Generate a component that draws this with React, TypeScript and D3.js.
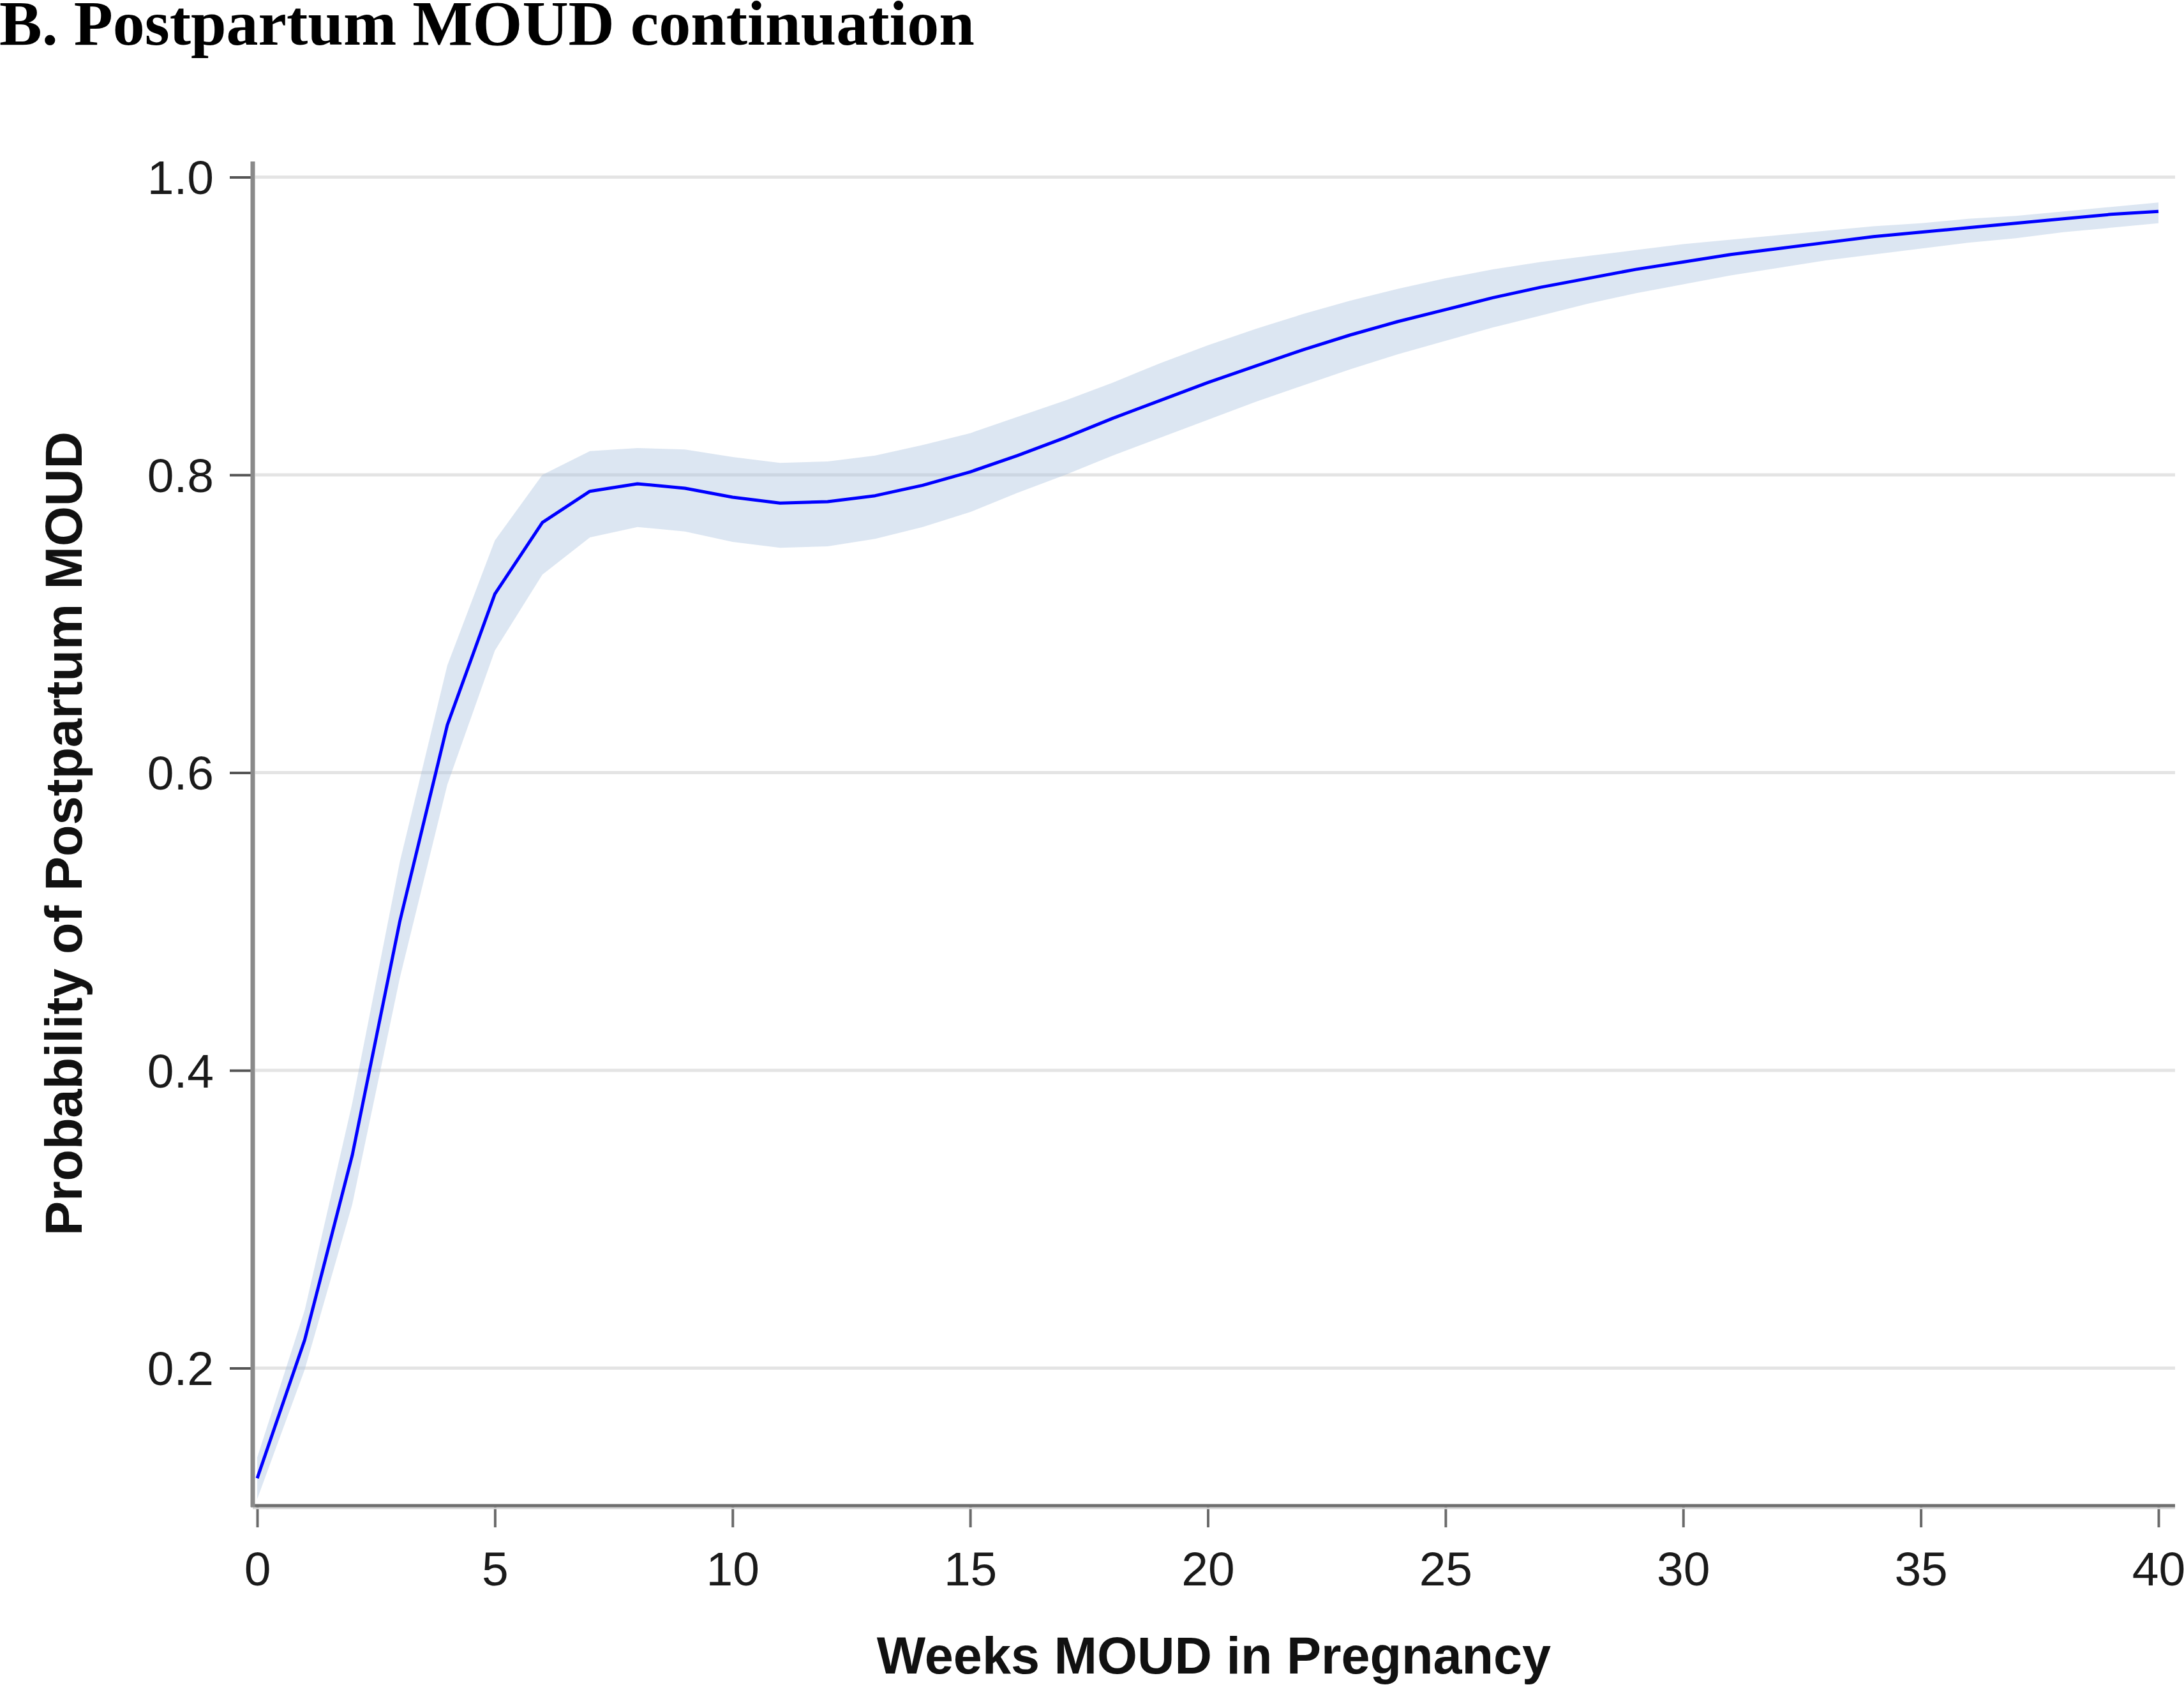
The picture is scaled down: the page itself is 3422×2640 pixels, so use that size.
import * as d3 from 'd3';
import { useEffect, useRef } from 'react';

// weeks of MOUD in pregnancy
const weeks = [
  0, 1, 2, 3, 4, 5, 6, 7, 8, 9, 10, 11, 12, 13, 14, 15, 16, 17, 18, 19, 20,
  21, 22, 23, 24, 25, 26, 27, 28, 29, 30, 31, 32, 33, 34, 35, 36, 37, 38, 39, 40,
];
// predicted probability
const prob = [
  0.126, 0.219, 0.343, 0.5, 0.632, 0.72, 0.768, 0.789, 0.794, 0.791, 0.785,
  0.781, 0.782, 0.786, 0.793, 0.802, 0.813, 0.825, 0.838, 0.85, 0.862,
  0.873, 0.884, 0.894, 0.903, 0.911, 0.919, 0.926, 0.932, 0.938, 0.943,
  0.948, 0.952, 0.956, 0.96, 0.963, 0.966, 0.969, 0.972, 0.975, 0.977,
];
const lower = [
  0.112, 0.199, 0.31, 0.462, 0.592, 0.682, 0.733, 0.758, 0.765, 0.762, 0.755,
  0.751, 0.752, 0.757, 0.765, 0.775, 0.788, 0.8, 0.813, 0.825, 0.837,
  0.849, 0.86, 0.871, 0.881, 0.89, 0.899, 0.907, 0.915, 0.922, 0.928,
  0.934, 0.939, 0.944, 0.948, 0.952, 0.956, 0.959, 0.963, 0.966, 0.969,
];
const upper = [
  0.14, 0.239, 0.378, 0.54, 0.672, 0.756, 0.8, 0.816, 0.818, 0.817, 0.812,
  0.808, 0.809, 0.813, 0.82, 0.828, 0.839, 0.85, 0.862, 0.875, 0.887,
  0.898, 0.908, 0.917, 0.925, 0.932, 0.938, 0.943, 0.947, 0.951, 0.955,
  0.958, 0.961, 0.964, 0.967, 0.969, 0.972, 0.974, 0.977, 0.98, 0.983,
];
const xTicks = [0, 5, 10, 15, 20, 25, 30, 35, 40];
const yTicks = [0.2, 0.4, 0.6, 0.8, 1.0];

const title = 'B. Postpartum MOUD continuation';
const xTitle = 'Weeks MOUD in Pregnancy';
const yTitle = 'Probability of Postpartum MOUD';

const App = () => {
  const svgRef = useRef(null);

  useEffect(() => {
    const width = 3422;
    const height = 2640;
    const axisX = 396;
    const axisY = 2359;
    const plotRight = 3408;
    const sans = '"Liberation Sans", Arial, sans-serif';

    const xScale = d3.scaleLinear([0, 40], [403, 3382]);
    const yScale = d3.scaleLinear([0.2, 1.0], [2143.5, 277.5]);

    const svg = d3.select(svgRef.current);
    svg.selectAll('*').remove();
    svg.attr('width', width).attr('height', height).attr('viewBox', [0, 0, width, height]);

    svg.append('rect').attr('width', width).attr('height', height).attr('fill', '#fff');

    // gridlines
    svg.append('g')
      .selectAll('line')
      .data(yTicks)
      .join('line')
      .attr('x1', axisX + 4)
      .attr('x2', plotRight)
      .attr('y1', (d) => yScale(d))
      .attr('y2', (d) => yScale(d))
      .attr('stroke', '#e4e4e4')
      .attr('stroke-width', 5);

    // confidence band
    const band = d3
      .area()
      .x((_, i) => xScale(weeks[i]))
      .y0((_, i) => yScale(lower[i]))
      .y1((_, i) => yScale(upper[i]))
      .curve(d3.curveLinear);
    svg.append('path')
      .attr('d', band(weeks))
      .attr('fill', '#a8c0de')
      .attr('fill-opacity', 0.4);

    const line = d3
      .line()
      .x((_, i) => xScale(weeks[i]))
      .y((_, i) => yScale(prob[i]))
      .curve(d3.curveLinear);
    svg.append('path')
      .attr('d', line(weeks))
      .attr('fill', 'none')
      .attr('stroke', '#0000ff')
      .attr('stroke-width', 5)
      .attr('stroke-linejoin', 'round');

    // y axis
    svg.append('g')
      .attr('transform', `translate(${axisX},0)`)
      .call(
        d3.axisLeft(yScale)
          .tickValues(yTicks)
          .tickFormat(d3.format('.1f'))
          .tickSize(36)
          .tickPadding(25)
      )
      .call((g) => {
        g.select('.domain').remove();
        g.selectAll('.tick line').attr('stroke', '#555').attr('stroke-width', 4);
        g.selectAll('.tick text')
          .attr('font-size', 75)
          .attr('font-family', sans)
          .attr('fill', '#1a1a1a')
          .attr('dy', '0.35em');
      });

    // x axis
    svg.append('g')
      .attr('transform', `translate(0,${axisY})`)
      .call(
        d3.axisBottom(xScale)
          .tickValues(xTicks)
          .tickSize(34)
          .tickPadding(38)
      )
      .call((g) => {
        g.select('.domain').remove();
        g.selectAll('.tick line').attr('stroke', '#6a6a6a').attr('stroke-width', 4);
        g.selectAll('.tick text')
          .attr('font-size', 75)
          .attr('font-family', sans)
          .attr('fill', '#1a1a1a');
      });

    // axis lines
    svg.append('line')
      .attr('x1', axisX).attr('x2', plotRight)
      .attr('y1', axisY + 4).attr('y2', axisY + 4)
      .attr('stroke', '#d6d6d6').attr('stroke-width', 3);
    svg.append('line')
      .attr('x1', axisX - 3).attr('x2', plotRight)
      .attr('y1', axisY).attr('y2', axisY)
      .attr('stroke', '#6e6e6e').attr('stroke-width', 5);
    svg.append('line')
      .attr('x1', axisX).attr('x2', axisX)
      .attr('y1', 253).attr('y2', axisY + 2)
      .attr('stroke', '#8a8a8a').attr('stroke-width', 7);

    // titles
    svg.append('text')
      .attr('x', (axisX + plotRight) / 2)
      .attr('y', 2622)
      .attr('text-anchor', 'middle')
      .attr('font-family', sans)
      .attr('font-weight', 'bold')
      .attr('font-size', 81)
      .attr('fill', '#111')
      .text(xTitle);

    svg.append('text')
      .attr('transform', `translate(128,${(253 + axisY) / 2}) rotate(-90)`)
      .attr('text-anchor', 'middle')
      .attr('font-family', sans)
      .attr('font-weight', 'bold')
      .attr('font-size', 81)
      .attr('fill', '#111')
      .text(yTitle);

    svg.append('text')
      .attr('x', -1)
      .attr('y', 70)
      .attr('font-family', '"Liberation Serif", "Times New Roman", serif')
      .attr('font-weight', 'bold')
      .attr('font-size', 100)
      .attr('fill', '#000')
      .text(title);
  }, []);

  return (
    <svg
      ref={svgRef}
      style={{ position: 'absolute', left: 0, top: 0, display: 'block' }}
    />
  );
};

export default App;
